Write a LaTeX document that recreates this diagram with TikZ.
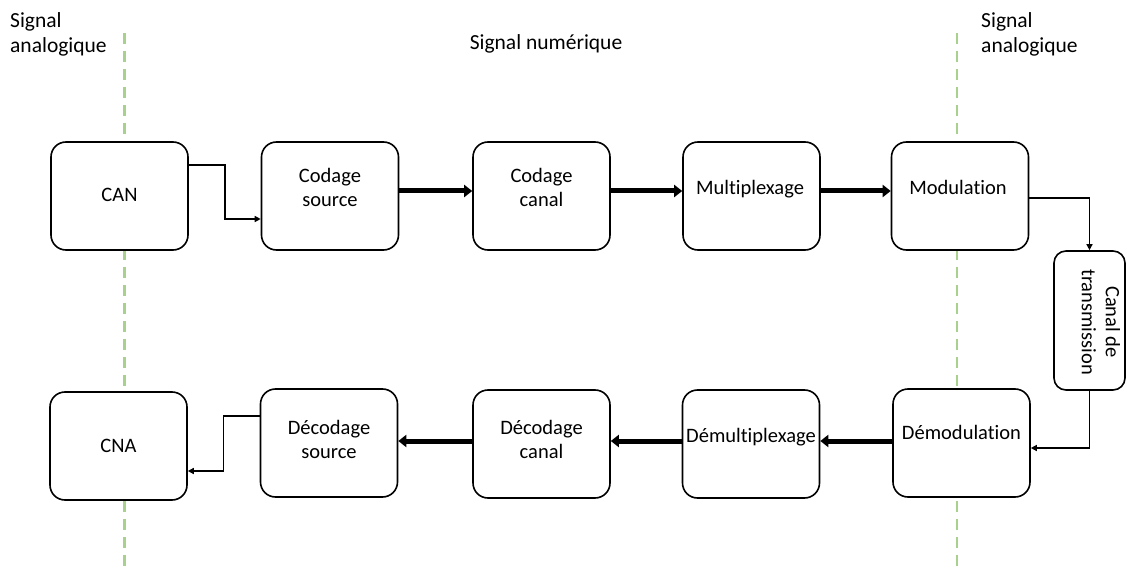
\documentclass[tikz,border=0pt]{standalone}
\usepackage{fontspec}
\setmainfont{Carlito}[Ligatures=NoCommon]
\usetikzlibrary{arrows.meta}
\definecolor{sepgreen}{HTML}{A9D18E}
\tikzset{
  stage/.style={draw, line width=1.6pt, rounded corners=15pt, fill=white,
    minimum width=137pt, minimum height=108pt, inner sep=0pt},
  stagetext/.style={font=\fontsize{20.5}{24}\selectfont, align=center, anchor=base, inner sep=0pt},
  heading/.style={font=\fontsize{21.5}{25.5}\selectfont, align=left, anchor=base west, inner sep=0pt},
  bus/.style={line width=5pt, -{Triangle[length=8pt,width=12pt]}},
  wire/.style={line width=1.4pt, -{Triangle[length=6pt,width=6pt]}},
  boundary/.style={sepgreen, line width=2.5pt, dash pattern=on 11pt off 7pt},
}
\begin{document}
\begin{tikzpicture}[x=1pt,y=-1pt]
\useasboundingbox (0,0) rectangle (1127,572);

% analog / digital boundaries
\coordinate (leftTop) at (124.5,33);
\coordinate (leftBot) at (124.5,572);
\coordinate (rightTop) at (957,33);
\coordinate (rightBot) at (957,572);
\draw[boundary] (leftTop) -- (leftBot);
\draw[boundary] (rightTop) -- (rightBot);

% domain headings (anchored on the baseline of the last line)
\node[heading] (hLeft) at (10,53) {Signal\\analogique};
\node[heading, anchor=base] (hMid) at (546,50) {Signal numérique};
\node[heading] (hRight) at (981,53) {Signal\\analogique};

% transmit chain
\node[stage] (can) at (119.5,196) {};
\node[stage] (cs)  at (330,196) {};
\node[stage] (cc)  at (541.5,196) {};
\node[stage] (mux) at (751.5,196) {};
\node[stage] (mod) at (960,196) {};

% channel
\node[stage, minimum width=71pt, minimum height=139pt, rounded corners=12pt] (canal) at (1089.5,320.5) {};

% receive chain
\node[stage] (cna)   at (118.5,446) {};
\node[stage] (ds)    at (329,443) {};
\node[stage] (dc)    at (541.5,444) {};
\node[stage] (demux) at (751,444) {};
\node[stage] (demod) at (961.5,443) {};

% stage labels
\node[stagetext] (tCan)   at (119.5,202) {CAN};
\node[stagetext] (tCs)    at (330,207)   {Codage\\source};
\node[stagetext] (tCc)    at (541.5,207) {Codage\\canal};
\node[stagetext] (tMux)   at (750,195)   {Multiplexage};
\node[stagetext] (tMod)   at (958,195)   {Modulation};
\node[stagetext, rotate=-90, anchor=center] (tCanal) at (1101,322) {Canal de\\transmission};
\node[stagetext] (tCna)   at (118.5,452) {CNA};
\node[stagetext] (tDs)    at (329,458)   {Décodage\\source};
\node[stagetext] (tDc)    at (541.5,458) {Décodage\\canal};
\node[stagetext] (tDemux) at (751,442)   {Démultiplexage};
\node[stagetext] (tDemod) at (961.5,439) {Démodulation};

% connectors
\draw[wire] ([yshift=31pt]can.east) -- ++(36,0) |- ([yshift=-23pt]cs.west);
\draw[bus] ([yshift=5pt]cs.east) -- ([yshift=5pt]cc.west);
\draw[bus] ([yshift=5pt]cc.east) -- ([yshift=5pt]mux.west);
\draw[bus] ([yshift=5pt]mux.east) -- ([yshift=5pt]mod.west);
\draw[wire] ([yshift=-2pt]mod.east) -| (canal.north);
\draw[wire] (canal.south) |- ([yshift=-5pt]demod.east);
\draw[bus] ([yshift=2pt]demod.west) -- ([yshift=3pt]demux.east);
\draw[bus] ([yshift=3pt]demux.west) -- ([yshift=3pt]dc.east);
\draw[bus] ([yshift=3pt]dc.west) -- ([yshift=2pt]ds.east);
\draw[wire] ([yshift=27pt]ds.west) -- ++(-36,0) |- ([yshift=-25pt]cna.east);
\end{tikzpicture}
\end{document}
